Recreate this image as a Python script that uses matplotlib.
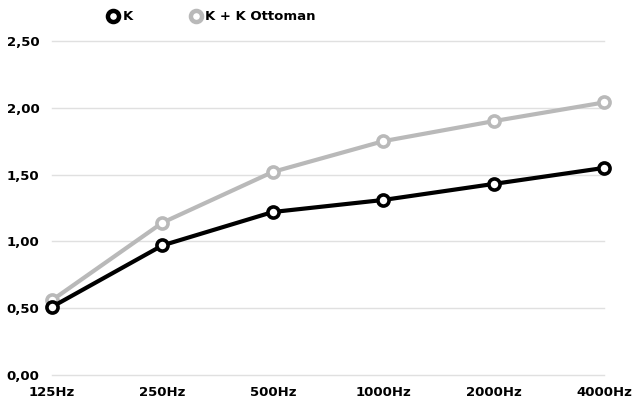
import matplotlib
matplotlib.use("Agg")
import matplotlib.pyplot as plt
from matplotlib.lines import Line2D
from matplotlib.ticker import FuncFormatter, MultipleLocator

freqs = ["125Hz", "250Hz", "500Hz", "1000Hz", "2000Hz", "4000Hz"]
k = [0.51, 0.97, 1.22, 1.31, 1.43, 1.55]
k_ottoman = [0.56, 1.14, 1.52, 1.75, 1.90, 2.04]

plt.rcParams["font.family"] = "DejaVu Sans"
plt.rcParams["font.weight"] = "bold"

black = "#000000"
grey = "#b9b9b9"

fig = plt.figure(figsize=(6.32, 4.03), dpi=100)
ax = fig.add_axes([52 / 632, 1 - 375 / 403, 552 / 632, 334 / 403])

x = list(range(len(freqs)))
ax.plot(x, k_ottoman, color=grey, lw=3, marker="o", ms=8, mfc="white",
        mec=grey, mew=2.6, clip_on=False, zorder=3)
ax.plot(x, k, color=black, lw=3, marker="o", ms=8, mfc="white",
        mec=black, mew=2.6, clip_on=False, zorder=4)

ax.set_xlim(0, len(freqs) - 1)
ax.set_ylim(0, 2.5)
ax.yaxis.set_major_locator(MultipleLocator(0.5))
ax.yaxis.set_major_formatter(FuncFormatter(lambda v, p: f"{v:.2f}".replace(".", ",")))
ax.set_xticks(x)
ax.set_xticklabels(freqs)
ax.tick_params(length=0, labelsize=9.5)
ax.tick_params(axis="y", pad=9)
ax.tick_params(axis="x", pad=8)
ax.grid(axis="y", color="#e0e0e0", lw=1.0)
for gl in ax.get_ygridlines():
    gl.set_clip_on(False)
ax.set_axisbelow(True)
for s in ax.spines.values():
    s.set_visible(False)

handles = [
    Line2D([], [], ls="none", marker="o", ms=8, mfc="white", mec=black, mew=3.2),
    Line2D([], [], ls="none", marker="o", ms=8, mfc="white", mec=grey, mew=3.2),
]
fig.legend(handles, ["K", "K + K Ottoman"], ncol=2, frameon=False,
           loc="center left", bbox_to_anchor=(96 / 632, 1 - 17 / 403),
           handlelength=0.8, handletextpad=0.3, columnspacing=4.4,
           prop={"size": 9.5, "weight": "bold"})

fig.savefig("out.png", dpi=100, facecolor="white")
